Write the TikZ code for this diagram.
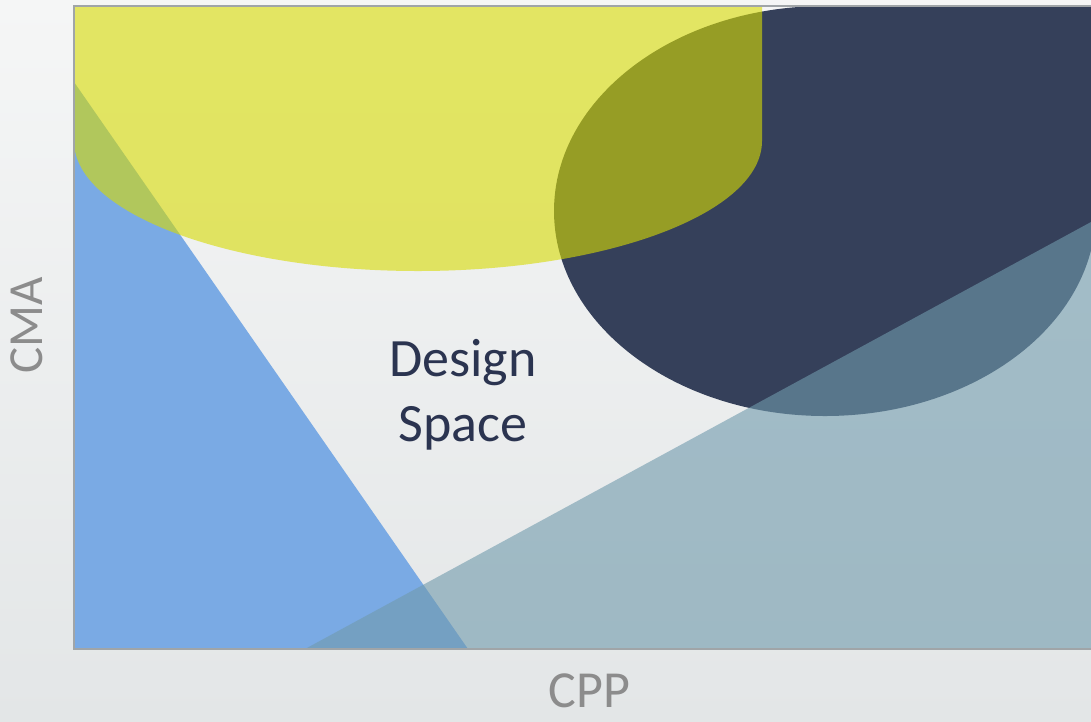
\documentclass[tikz,border=0pt]{standalone}
\usepackage{fontspec}
\setmainfont{Carlito}
\definecolor{bgtop}{RGB}{245,246,246}
\definecolor{bgbot}{RGB}{227,230,231}
\definecolor{blueA}{RGB}{122,170,228}
\definecolor{navyA}{RGB}{53,64,90}
\definecolor{yellowA}{RGB}{215,219,2}
\definecolor{lightA}{RGB}{112,154,172}
\definecolor{framec}{RGB}{160,165,168}
\definecolor{axislab}{RGB}{140,140,140}
\definecolor{dstext}{RGB}{43,52,80}
\tikzset{
  axislabel/.style={text=axislab, inner sep=0pt},
  dslabel/.style={text=dstext, inner sep=0pt, align=center, font=\fontsize{54}{65}\selectfont},
  framestyle/.style={draw=framec, line width=1.3pt},
}
\begin{document}
\begin{tikzpicture}[x=1pt,y=-1pt]
\useasboundingbox (0,0) rectangle (1091,721);
\shade[top color=bgtop, bottom color=bgbot] (0,0) rectangle (1091,721);
\begin{scope}
  \clip (74,6) rectangle (1091,649);
  % blue triangle
  \fill[blueA] (74,82) -- (468,649) -- (74,649) -- cycle;
  % navy shape
  \fill[navyA] (825,6) -- (1096,6) -- (1096,211)
     arc[start angle=0, end angle=270, x radius=271, y radius=205] -- cycle;
  % yellow shape
  \fill[yellowA, fill opacity=0.6] (74,6) -- (762,6) -- (762,141)
     arc[start angle=0, end angle=180, x radius=344, y radius=130] -- cycle;
  % light blue triangle
  \fill[lightA, fill opacity=0.6] (305,649) -- (1091,222) -- (1091,649) -- cycle;
\end{scope}
\coordinate (tr) at (1091,6);
\coordinate (tl) at (74,6);
\coordinate (bl) at (74,649);
\coordinate (br) at (1091,649);
\draw[framestyle] (tr) -- (tl) -- (bl) -- (br);
\node[axislabel, font=\fontsize{49}{58}\selectfont, anchor=base, rotate=90] (cma) at (42,325.5) {CMA};
\node[axislabel, font=\fontsize{52}{60}\selectfont, anchor=base] (cpp) at (589.5,707) {CPP};
\node[dslabel] (ds) at (463,395) {Design\\Space};
\end{tikzpicture}
\end{document}
